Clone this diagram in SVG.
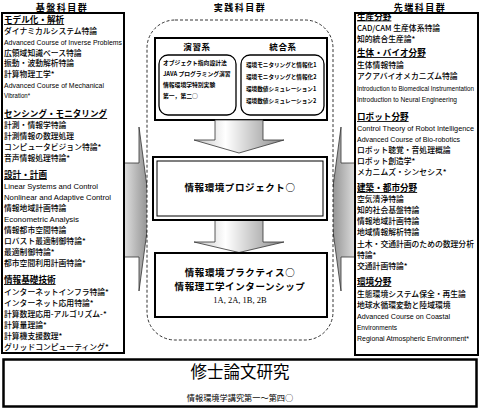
<svg xmlns="http://www.w3.org/2000/svg" width="480" height="411" viewBox="0 0 480 411">
<defs>
<linearGradient id="gd" x1="0" x2="1" y1="0" y2="0"><stop offset="0" stop-color="#c4c4c4"/><stop offset="0.35" stop-color="#ffffff"/><stop offset="1" stop-color="#8a8a8a"/></linearGradient>
<linearGradient id="gl" x1="0" x2="1" y1="0" y2="0"><stop offset="0" stop-color="#f4f4f4"/><stop offset="1" stop-color="#8a8a8a"/></linearGradient>
<linearGradient id="gr" x1="0" x2="1" y1="0" y2="0"><stop offset="0" stop-color="#8a8a8a"/><stop offset="1" stop-color="#f4f4f4"/></linearGradient>
</defs>
<style>
text{font-family:"Noto Sans CJK JP",sans-serif;fill:#000}
.t{font-size:7.8px;font-weight:500}
.e{font-family:"Liberation Sans",sans-serif;font-size:8px}
.h{font-size:8.6px;font-weight:bold;text-decoration:underline}
.ttl{font-size:9px;font-weight:bold;letter-spacing:1.5px;text-anchor:middle}
.box{fill:#fff;stroke:#000;stroke-width:2}
.sub{fill:#fff;stroke:#000;stroke-width:1.3}
.s{font-size:5.8px;font-weight:bold}
.c{font-size:9.5px;font-weight:bold;text-anchor:middle;letter-spacing:0.6px}
.arr{stroke:#333;stroke-width:0.8}
</style>

<g id="connectors">
<path class="arr" fill="url(#gl)" d="M118,163 L139,163 L139,127 L150,209 L139,291 L139,257 L118,257 Z"/>
<path class="arr" fill="url(#gr)" d="M362,163 L341,163 L341,127 L330,209 L341,291 L341,257 L362,257 Z"/>
</g>

<g id="basic">
<text class="ttl" x="62" y="11">基盤科目群</text>
<rect class="box" x="2" y="13" width="122" height="340"/>
<text class="h" x="4" y="23">モデル化・解析</text>
<text class="t" x="4" y="34">ダイナミカルシステム特論</text>
<text class="e" x="4" y="45" textLength="118" lengthAdjust="spacingAndGlyphs">Advanced Course of Inverse Problems</text>
<text class="t" x="4" y="56">広領域知識ベース特論</text>
<text class="t" x="4" y="66">振動・波動解析特論</text>
<text class="t" x="4" y="77">計算物理工学*</text>
<text class="e" x="4" y="88" textLength="100" lengthAdjust="spacingAndGlyphs">Advanced Course of Mechanical</text>
<text class="e" x="4" y="98" textLength="26" lengthAdjust="spacingAndGlyphs">Vibration*</text>
<text class="h" x="4" y="117">センシング・モニタリング</text>
<text class="t" x="4" y="128">計測・情報学特論</text>
<text class="t" x="4" y="139">計測情報の数理処理</text>
<text class="t" x="4" y="150">コンピュータビジョン特論*</text>
<text class="t" x="4" y="161">音声情報処理特論*</text>
<text class="h" x="4" y="178">設計・計画</text>
<text class="e" x="4" y="189" textLength="94" lengthAdjust="spacingAndGlyphs">Linear Systems and Control</text>
<text class="e" x="4" y="200" textLength="107" lengthAdjust="spacingAndGlyphs">Nonlinear and Adaptive Control</text>
<text class="t" x="4" y="211">情報地域計画特論</text>
<text class="e" x="4" y="222" textLength="75" lengthAdjust="spacingAndGlyphs">Econometric Analysis</text>
<text class="t" x="4" y="233">情報都市空間特論</text>
<text class="t" x="4" y="244">ロバスト最適制御特論*</text>
<text class="t" x="4" y="255">最適制御特論*</text>
<text class="t" x="4" y="266">都市空間利用計画特論*</text>
<text class="h" x="4" y="283">情報基礎技術</text>
<text class="t" x="4" y="295">インターネットインフラ特論*</text>
<text class="t" x="4" y="306">インターネット応用特論*</text>
<text class="t" x="4" y="317">計算数理応用-アルゴリズム-*</text>
<text class="t" x="4" y="328">計算量理論*</text>
<text class="t" x="4" y="339">計算機支援数理*</text>
<text class="t" x="4" y="350">グリッドコンピューティング*</text>
</g>

<g id="advanced">
<text class="ttl" x="420" y="11">先端科目群</text>
<rect class="box" x="355" y="13" width="123" height="342"/>
<text class="h" x="357" y="19.5">生産分野</text>
<text class="t" x="357" y="30.5">CAD/CAM 生産体系特論</text>
<text class="t" x="357" y="41.5">知的統合生産論*</text>
<text class="h" x="357" y="56">生体・バイオ分野</text>
<text class="t" x="357" y="68">生体情報特論</text>
<text class="t" x="357" y="79">アクアバイオメカニズム特論</text>
<text class="e" x="357" y="91" style="font-size:6.3px" textLength="117" lengthAdjust="spacingAndGlyphs">Introduction to Biomedical Instrumentation</text>
<text class="e" x="357" y="102" textLength="100" lengthAdjust="spacingAndGlyphs">Introduction to Neural Engineering</text>
<text class="h" x="357" y="120">ロボット分野</text>
<text class="e" x="357" y="131" style="font-size:7.1px" textLength="117" lengthAdjust="spacingAndGlyphs">Control Theory of Robot Intelligence</text>
<text class="e" x="357" y="142" textLength="103" lengthAdjust="spacingAndGlyphs">Advanced Course of Bio-robotics</text>
<text class="t" x="357" y="153">ロボット聴覚・音処理概論</text>
<text class="t" x="357" y="164">ロボット創造学*</text>
<text class="t" x="357" y="175">メカニムズ・シンセシス*</text>
<text class="h" x="357" y="191">建築・都市分野</text>
<text class="t" x="357" y="202">空気清浄特論</text>
<text class="t" x="357" y="213">知的社会基盤特論</text>
<text class="t" x="357" y="224">情報地域計画特論</text>
<text class="t" x="357" y="235">地域情報解析特論</text>
<text class="t" x="357" y="247">土木・交通計画のための数理分析</text>
<text class="t" x="357" y="258">特論*</text>
<text class="t" x="357" y="269">交通計画特論*</text>
<text class="h" x="357" y="285">環境分野</text>
<text class="t" x="357" y="296.5">生態環境システム保全・再生論</text>
<text class="t" x="357" y="307.5">地球水循環変動と陸域環境</text>
<text class="e" x="357" y="319" textLength="93" lengthAdjust="spacingAndGlyphs">Advanced Course on Coastal</text>
<text class="e" x="357" y="330" textLength="40" lengthAdjust="spacingAndGlyphs">Environments</text>
<text class="e" x="357" y="341" style="font-size:6.9px" textLength="112" lengthAdjust="spacingAndGlyphs">Regional Atmospheric Environment*</text>
</g>

<g id="practice">
<text class="ttl" x="240" y="11">実践科目群</text>
<rect x="147" y="20" width="186" height="320" rx="28" fill="#fff" stroke="#000" stroke-width="0.8" stroke-dasharray="3,2"/>
</g>

<g id="exercise">
<rect class="box" x="155" y="38" width="172" height="82" stroke-width="2.5"/>
<text class="c" x="197" y="49.5" style="font-size:8.5px">演習系</text>
<text class="c" x="283" y="49.5" style="font-size:8.5px">統合系</text>
<rect class="sub" x="159" y="55" width="77" height="60" rx="9"/>
<text class="s" x="163" y="65">オブジェクト指向設計法</text>
<text class="s" x="163" y="76">JAVA プログラミング演習</text>
<text class="s" x="163" y="87">情報環境学特別実験</text>
<text class="s" x="163" y="98">第一，第二○</text>
<rect class="sub" x="241" y="55" width="83" height="60" rx="9"/>
<text class="s" x="246" y="67" style="font-size:5.6px">環境モニタリングと情報化1</text>
<text class="s" x="246" y="79" style="font-size:5.6px">環境モニタリングと情報化2</text>
<text class="s" x="246" y="91" style="font-size:5.6px">環境数値シミュレーション1</text>
<text class="s" x="246" y="103" style="font-size:5.6px">環境数値シミュレーション2</text>
</g>

<g id="down-arrows">
<path class="arr" fill="url(#gd)" d="M215,120 L263,120 L263,140 L284,140 L239,153 L194,140 L215,140 Z"/>
<path class="arr" fill="url(#gd)" d="M215,220 L263,220 L263,242 L284,242 L239,252.5 L194,242 L215,242 Z"/>
</g>

<g id="project">
<rect class="box" x="153" y="157" width="174" height="63"/>
<rect x="157" y="161" width="166" height="55" fill="none" stroke="#000" stroke-width="1"/>
<text class="c" x="240" y="190.5">情報環境プロジェクト○</text>
</g>

<g id="internship">
<rect class="box" x="155" y="253" width="172" height="64"/>
<text class="c" x="240" y="275.5">情報環境プラクティス○</text>
<text class="c" x="240" y="289.5">情報理工学インターンシップ</text>
<text x="240" y="303" text-anchor="middle" style="font-family:'Liberation Serif',serif;font-size:8.5px">1A, 2A, 1B, 2B</text>
</g>

<g id="thesis">
<rect x="3.5" y="359.5" width="473" height="47" fill="#fff" stroke="#000" stroke-width="2.5"/>
<text x="240" y="378" text-anchor="middle" style="font-size:16.5px">修士論文研究</text>
<text x="240" y="400.5" text-anchor="middle" style="font-size:8.2px">情報環境学講究第一～第四○</text>
</g>
</svg>
